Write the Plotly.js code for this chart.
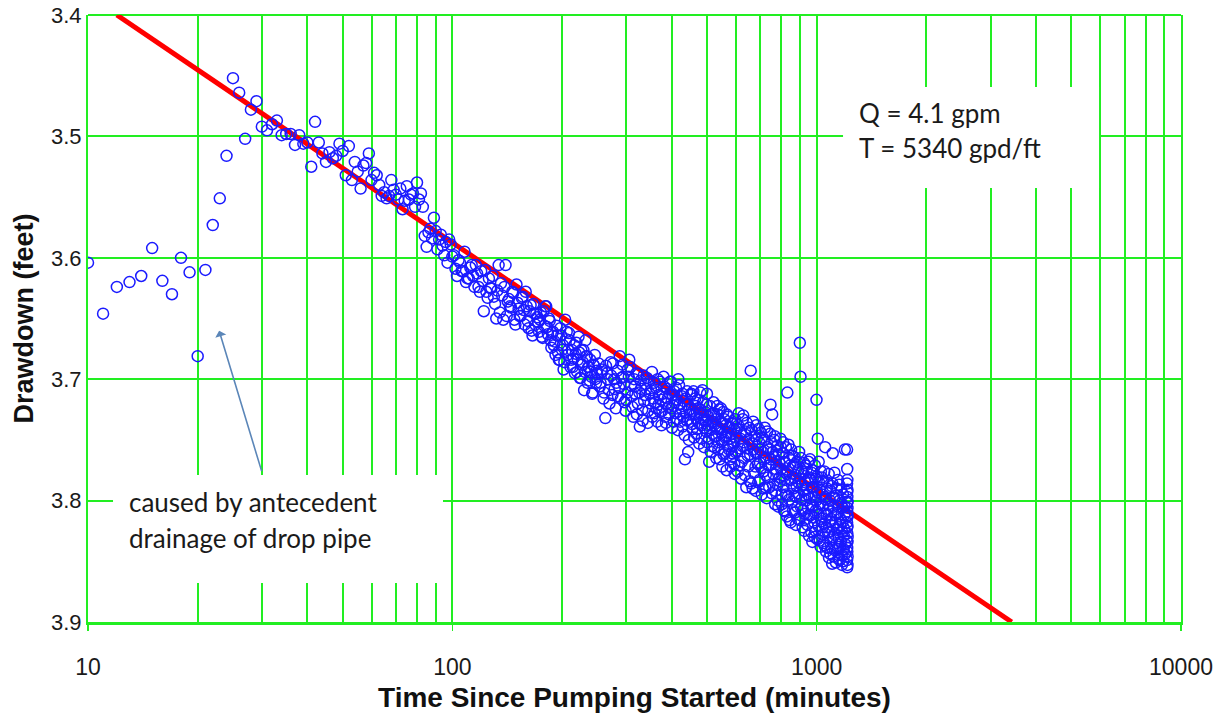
<!DOCTYPE html>
<html>
<head>
<meta charset="utf-8">
<script src="https://cdn.plot.ly/plotly-3.0.1.min.js"></script>
<style>html,body{margin:0;padding:0;background:#fff;}#chart{width:1230px;height:719px;}</style>
</head>
<body>
<div id="chart"></div>
<script>
// Observed drawdown (feet) vs time since pumping started (minutes): [time, drawdown]
const earlyReadings = [[10,3.604],[11,3.646],[12,3.624],[13,3.620],[14,3.615],[15,3.592],[16,3.619],[17,3.630],[18,3.600],[19,3.612],[20,3.681],[21,3.610],[22,3.573],[23,3.551],[24,3.516],[25,3.452],[26,3.464],[27,3.502],[28,3.478],[29,3.471],[30,3.492],[31,3.495],[32,3.490],[33,3.487],[34,3.499],[35,3.498],[36,3.498],[37,3.507],[38,3.499],[39,3.506],[40,3.505],[41,3.525],[42,3.488],[43,3.505]];

const readings44to100 = [[44,3.514],[45,3.521],[46,3.513],[47,3.518],[48,3.516],[49,3.506],[50,3.512],[51,3.532],[52,3.508],[53,3.536],[54,3.521],[55,3.529],[56,3.543],[57,3.524],[58,3.522],[59,3.514],[60,3.536],[61,3.530],[62,3.532],[63,3.540],[64,3.549],[65,3.546],[66,3.551],[67,3.549],[68,3.536],[69,3.544],[70,3.548],[71,3.552],[72,3.543],[73,3.560],[74,3.553],[75,3.541],[76,3.552],[77,3.548],[78,3.547],[79,3.558],[80,3.538],[81,3.552],[82,3.547],[83,3.558],[84,3.582],[85,3.591],[86,3.579],[87,3.576],[88,3.584],[89,3.567],[90,3.578],[91,3.593],[92,3.585],[93,3.581],[94,3.590],[95,3.598],[96,3.587],[97,3.604],[98,3.585],[99,3.589],[100,3.599]];

const readings101to250 = [[101,3.598],[102,3.609],[103,3.615],[104,3.602],[105,3.604],[106,3.611],[107,3.611],[108,3.595],[109,3.620],[110,3.617],[111,3.617],[112,3.608],[113,3.606],[114,3.615],[115,3.624],[116,3.606],[117,3.613],[118,3.624],[119,3.628],[120,3.611],[121,3.619],[122,3.644],[123,3.610],[124,3.628],[125,3.633],[126,3.617],[127,3.625],[128,3.625],[129,3.615],[130,3.632],[131,3.638],[132,3.650],[133,3.627],[134,3.606],[135,3.645],[136,3.621],[137,3.631],[138,3.651],[139,3.624],[140,3.606],[141,3.648],[142,3.636],[143,3.634],[144,3.640],[145,3.641],[146,3.628],[147,3.629],[148,3.651],[149,3.655],[150,3.622],[151,3.637],[152,3.642],[153,3.648],[154,3.648],[155,3.633],[156,3.632],[157,3.643],[158,3.655],[159,3.628],[160,3.640],[161,3.652],[162,3.658],[163,3.644],[164,3.639],[165,3.660],[166,3.664],[167,3.638],[168,3.646],[169,3.655],[170,3.646],[171,3.649],[172,3.653],[173,3.661],[174,3.651],[175,3.645],[176,3.665],[177,3.666],[178,3.644],[179,3.656],[180,3.640],[181,3.640],[182,3.657],[183,3.663],[184,3.650],[185,3.652],[186,3.668],[187,3.674],[188,3.662],[189,3.661],[190,3.672],[191,3.669],[192,3.680],[193,3.656],[194,3.664],[195,3.678],[196,3.684],[197,3.684],[198,3.658],[199,3.664],[200,3.676],[201,3.672],[202,3.692],[203,3.686],[204,3.651],[205,3.667],[206,3.661],[207,3.680],[208,3.676],[209,3.662],[210,3.668],[211,3.690],[212,3.684],[213,3.676],[214,3.690],[215,3.683],[216,3.672],[217,3.695],[218,3.679],[219,3.670],[220,3.694],[221,3.684],[222,3.665],[223,3.678],[224,3.699],[225,3.699],[226,3.676],[227,3.688],[228,3.686],[229,3.676],[230,3.709],[231,3.694],[232,3.668],[233,3.681],[234,3.681],[235,3.703],[236,3.690],[237,3.690],[238,3.701],[239,3.684],[240,3.694],[241,3.698],[242,3.712],[243,3.711],[244,3.688],[245,3.689],[246,3.680],[247,3.700],[248,3.703],[249,3.693],[250,3.696]];

const readings252to600 = [[252,3.687],[255,3.703],[258,3.694],[261,3.711],[264,3.689],[267,3.700],[270,3.720],[273,3.697],[276,3.687],[279,3.708],[282,3.703],[285,3.714],[288,3.681],[291,3.699],[294,3.698],[297,3.719],[300,3.717],[303,3.692],[306,3.684],[309,3.705],[312,3.723],[315,3.700],[318,3.712],[321,3.729],[324,3.696],[327,3.739],[330,3.708],[333,3.734],[336,3.718],[339,3.704],[342,3.699],[345,3.726],[348,3.712],[351,3.709],[354,3.731],[357,3.703],[360,3.719],[363,3.724],[366,3.700],[369,3.713],[372,3.727],[375,3.738],[378,3.712],[381,3.706],[384,3.731],[387,3.720],[390,3.716],[393,3.729],[396,3.702],[399,3.724],[402,3.713],[405,3.735],[408,3.719],[411,3.707],[414,3.733],[417,3.700],[420,3.721],[423,3.729],[426,3.714],[429,3.739],[432,3.718],[435,3.766],[438,3.727],[441,3.710],[444,3.760],[447,3.725],[450,3.735],[453,3.712],[456,3.741],[459,3.710],[462,3.729],[465,3.722],[468,3.745],[471,3.717],[474,3.736],[477,3.728],[480,3.725],[483,3.749],[486,3.709],[489,3.733],[492,3.740],[495,3.734],[498,3.721],[501,3.752],[504,3.738],[507,3.768],[510,3.742],[513,3.729],[516,3.755],[519,3.735],[522,3.728],[525,3.747],[528,3.739],[531,3.747],[534,3.722],[537,3.758],[540,3.725],[543,3.741],[546,3.724],[549,3.751],[552,3.736],[555,3.762],[558,3.733],[561,3.748],[564,3.747],[567,3.729],[570,3.755],[573,3.740],[576,3.739],[579,3.766],[582,3.745],[585,3.761],[588,3.737],[591,3.752],[594,3.770],[597,3.733],[600,3.748],
[254,3.706],[257,3.692],[260,3.716],[263,3.732],[266,3.695],[269,3.709],[272,3.686],[275,3.713],[278,3.700],[281,3.724],[284,3.693],[287,3.707],[290,3.716],[293,3.688],[296,3.704],[299,3.726],[302,3.711],[305,3.698],[308,3.690],[311,3.714],[314,3.731],[317,3.706],[320,3.695],[323,3.720],[326,3.711],[329,3.701],[332,3.725],[335,3.697],[338,3.713],[341,3.708],[344,3.736],[347,3.702],[350,3.720],[353,3.694],[356,3.716],[359,3.728],[362,3.707],[365,3.735],[368,3.721],[371,3.702],[374,3.717],[377,3.726],[380,3.698],[383,3.715],[386,3.736],[389,3.708],[392,3.723],[395,3.712],[398,3.702],[401,3.740],[404,3.722],[407,3.710],[410,3.728],[413,3.717],[416,3.742],[419,3.705],[422,3.735],[425,3.724],[428,3.712],[431,3.731],[434,3.746],[437,3.716],[440,3.734],[443,3.721],[446,3.750],[449,3.729],[452,3.713],[455,3.737],[458,3.726],[461,3.748],[464,3.716],[467,3.732],[470,3.741],[473,3.724],[476,3.753],[479,3.711],[482,3.738],[485,3.730],[488,3.719],[491,3.756],[494,3.727],[497,3.743],[500,3.712],[503,3.731],[506,3.749],[509,3.722],[512,3.760],[515,3.738],[518,3.745],[521,3.719],[524,3.756],[527,3.733],[530,3.765],[533,3.741],[536,3.729],[539,3.752],[542,3.766],[545,3.735],[548,3.744],[551,3.772],[554,3.727],[557,3.750],[560,3.761],[563,3.738],[566,3.775],[569,3.744],[572,3.731],[575,3.758],[578,3.749],[581,3.772],[584,3.736],[587,3.764],[590,3.754],[593,3.741],[596,3.778],[599,3.760]];

const readings603to1199 = [[603,3.741],[607,3.776],[611,3.728],[615,3.757],[619,3.744],[623,3.768],[627,3.733],[631,3.752],[635,3.779],[639,3.746],[643,3.736],[647,3.763],[651,3.750],[655,3.784],[659,3.693],[663,3.742],[667,3.790],[671,3.758],[675,3.747],[679,3.772],[683,3.738],[687,3.761],[691,3.785],[695,3.752],[699,3.769],[703,3.744],[707,3.795],[711,3.760],[715,3.776],[719,3.750],[723,3.789],[727,3.765],[731,3.743],[735,3.781],[739,3.758],[743,3.771],[747,3.721],[751,3.752],[755,3.729],[759,3.787],[763,3.764],[767,3.747],[771,3.792],[775,3.770],[779,3.755],[783,3.800],[787,3.762],[791,3.781],[795,3.749],[799,3.774],[803,3.803],[807,3.761],[811,3.789],[815,3.768],[819,3.809],[823,3.756],[827,3.778],[831,3.711],[835,3.796],[839,3.765],[843,3.816],[847,3.783],[851,3.758],[855,3.801],[859,3.772],[863,3.790],[867,3.764],[871,3.810],[875,3.779],[879,3.797],[883,3.768],[887,3.815],[891,3.785],[895,3.760],[899,3.670],[903,3.698],[907,3.806],[911,3.776],[915,3.822],[919,3.792],[923,3.769],[927,3.811],[931,3.785],[935,3.800],[939,3.774],[943,3.820],[947,3.795],[951,3.781],[955,3.812],[959,3.766],[963,3.803],[967,3.826],[971,3.789],[975,3.775],[979,3.814],[983,3.797],[987,3.830],[991,3.782],[995,3.808],[999,3.717],[1003,3.793],[1007,3.749],[1011,3.821],[1015,3.785],[1019,3.833],[1023,3.802],[1027,3.776],[1031,3.817],[1035,3.795],[1039,3.828],[1043,3.784],[1047,3.811],[1051,3.837],[1055,3.756],[1059,3.799],[1063,3.822],[1067,3.790],[1071,3.839],[1075,3.807],[1079,3.778],[1083,3.826],[1087,3.800],[1091,3.844],[1095,3.815],[1099,3.788],[1103,3.852],[1107,3.761],[1111,3.830],[1115,3.805],[1119,3.777],[1123,3.841],[1127,3.818],[1131,3.796],[1135,3.835],[1139,3.810],[1143,3.783],[1147,3.848],[1151,3.822],[1155,3.800],[1159,3.838],[1163,3.815],[1167,3.791],[1171,3.845],[1175,3.826],[1179,3.806],[1183,3.850],[1187,3.829],[1191,3.812],[1195,3.758],[1199,3.836],
[605,3.759],[609,3.738],[613,3.771],[617,3.749],[621,3.782],[625,3.755],[629,3.730],[633,3.765],[637,3.743],[641,3.789],[645,3.757],[649,3.772],[653,3.740],[657,3.762],[661,3.786],[665,3.753],[669,3.735],[673,3.777],[677,3.760],[681,3.792],[685,3.749],[689,3.770],[693,3.741],[697,3.783],[701,3.758],[705,3.773],[709,3.748],[713,3.790],[717,3.766],[721,3.740],[725,3.779],[729,3.798],[733,3.756],[737,3.771],[741,3.789],[745,3.745],[749,3.766],[753,3.794],[757,3.760],[761,3.778],[765,3.750],[769,3.803],[773,3.774],[777,3.759],[781,3.787],[785,3.805],[789,3.768],[793,3.784],[797,3.756],[801,3.795],[805,3.779],[809,3.752],[813,3.808],[817,3.783],[821,3.769],[825,3.795],[829,3.813],[833,3.776],[837,3.754],[841,3.799],[845,3.771],[849,3.818],[853,3.786],[857,3.763],[861,3.808],[865,3.781],[869,3.796],[873,3.770],[877,3.820],[881,3.788],[885,3.805],[889,3.775],[893,3.794],[897,3.816],[901,3.782],[905,3.765],[909,3.799],[913,3.787],[917,3.808],[921,3.778],[925,3.825],[929,3.796],[933,3.771],[937,3.815],[941,3.790],[945,3.806],[949,3.768],[953,3.829],[957,3.798],[961,3.783],[965,3.812],[969,3.777],[973,3.834],[977,3.804],[981,3.789],[985,3.818],[989,3.771],[993,3.825],[997,3.800],[1001,3.780],[1005,3.832],[1009,3.812],[1013,3.768],[1017,3.806],[1021,3.791],[1025,3.838],[1029,3.815],[1033,3.781],[1037,3.822],[1041,3.804],[1045,3.835],[1049,3.776],[1053,3.819],[1057,3.797],[1061,3.842],[1065,3.812],[1069,3.785],[1073,3.826],[1077,3.803],[1081,3.847],[1085,3.817],[1089,3.792],[1093,3.832],[1097,3.809],[1101,3.839],[1105,3.786],[1109,3.821],[1113,3.846],[1117,3.798],[1121,3.828],[1125,3.812],[1129,3.851],[1133,3.790],[1137,3.824],[1141,3.840],[1145,3.805],[1149,3.831],[1153,3.787],[1157,3.849],[1161,3.820],[1165,3.834],[1169,3.802],[1173,3.853],[1177,3.818],[1181,3.795],[1185,3.840],[1189,3.823],[1193,3.805],[1197,3.844]];

const finalReadings = [[1212,3.758],[1213,3.774],[1214,3.783],[1212,3.786],[1215,3.791],[1213,3.793],[1214,3.797],[1216,3.801],[1212,3.802],[1215,3.806],[1213,3.809],[1214,3.812],[1216,3.813],[1212,3.818],[1215,3.821],[1213,3.822],[1214,3.827],[1216,3.830],[1212,3.833],[1215,3.834],[1213,3.839],[1214,3.842],[1216,3.846],[1212,3.849],[1215,3.853],[1213,3.855]];

// Straight-line (Cooper-Jacob) fit endpoints
const fitTime = [12, 3430];
const fitDrawdown = [3.4, 3.9];

// Axis tick labels
const majorTicks = [10, 100, 1000, 10000];
const majorLabels = ["10", "100", "1000", "10000"];
const minorTicks = [20,30,40,50,60,70,80,90,200,300,400,500,600,700,800,900,2000,3000,4000,5000,6000,7000,8000,9000];
const yTicks = [3.4, 3.5, 3.6, 3.7, 3.8, 3.9];

const allReadings = [].concat(earlyReadings, readings44to100, readings101to250, readings252to600, readings603to1199, finalReadings);
const timeVals = allReadings.map(p => p[0]);
const ddVals = allReadings.map(p => p[1]);

const GREEN = '#22ee22';

const traces = [
  {
    x: fitTime, y: fitDrawdown, type: 'scatter', mode: 'lines',
    line: {color: '#ff0000', width: 5}, hoverinfo: 'skip', showlegend: false
  },
  {
    x: timeVals, y: ddVals, type: 'scatter', mode: 'markers',
    marker: {symbol: 'circle-open', size: 11, color: '#1a1aff', line: {width: 1.5, color: '#1a1aff'}},
    showlegend: false
  }
];

const txtFont = {family: 'Lato, "Noto Sans", sans-serif', size: 26, color: '#1a1a1a'};

const layout = {
  width: 1230, height: 719,
  margin: {l: 88, r: 49, t: 15, b: 97},
  paper_bgcolor: '#ffffff', plot_bgcolor: '#ffffff',
  showlegend: false,
  xaxis: {
    type: 'log', range: [1, 4],
    tickmode: 'array', tickvals: majorTicks, ticktext: majorLabels,
    showgrid: true, gridcolor: GREEN, gridwidth: 2,
    minor: {tickmode: 'array', tickvals: minorTicks, showgrid: true, gridcolor: GREEN, gridwidth: 2, ticks: ''},
    ticks: 'outside', ticklen: 6, tickcolor: GREEN, tickwidth: 1.5,
    ticklabelstandoff: 16,
    showline: true, linecolor: GREEN, linewidth: 3,
    zeroline: false,
    tickfont: {family: '"Liberation Sans", Arial, sans-serif', size: 23, color: '#1a1a1a'},
    title: {text: '<b>Time Since Pumping Started (minutes)</b>', font: {family: '"Liberation Sans", Arial, sans-serif', size: 28, color: '#111'}, standoff: 9}
  },
  yaxis: {
    range: [3.9, 3.4], autorange: false,
    tickmode: 'array', tickvals: yTicks, ticktext: yTicks.map(v => v.toFixed(1)),
    showgrid: true, gridcolor: GREEN, gridwidth: 2,
    ticks: '', showline: true, mirror: true, linecolor: GREEN, linewidth: 2,
    zeroline: false,
    tickfont: {family: '"Liberation Sans", Arial, sans-serif', size: 22, color: '#1a1a1a'},
    title: {text: '<b>Drawdown (feet)</b>', font: {family: '"Liberation Sans", Arial, sans-serif', size: 27, color: '#111'}, standoff: 10}
  },
  shapes: [
    {type: 'line', xref: 'paper', yref: 'paper', x0: 0, x1: 1, y0: 1, y1: 1, line: {color: GREEN, width: 2}, layer: 'below'},
    {type: 'rect', xref: 'paper', yref: 'paper', x0: 0.6908, x1: 0.925, y0: 0.715, y1: 0.8814, fillcolor: '#ffffff', line: {width: 0}, layer: 'above'},
    {type: 'rect', xref: 'paper', yref: 'paper', x0: 0.0229, x1: 0.3248, y0: 0.0643, y1: 0.2422, fillcolor: '#ffffff', line: {width: 0}, layer: 'above'}
  ],
  annotations: [
    {xref: 'paper', yref: 'paper', x: 0.7036, y: 0.8386, xanchor: 'left', yanchor: 'middle', text: 'Q = 4.1 gpm', showarrow: false, font: txtFont},
    {xref: 'paper', yref: 'paper', x: 0.7036, y: 0.7809, xanchor: 'left', yanchor: 'middle', text: 'T = 5340 gpd/ft', showarrow: false, font: txtFont},
    {xref: 'paper', yref: 'paper', x: 0.0357, y: 0.1977, xanchor: 'left', yanchor: 'middle', text: 'caused by antecedent', showarrow: false, font: txtFont},
    {xref: 'paper', yref: 'paper', x: 0.0357, y: 0.1384, xanchor: 'left', yanchor: 'middle', text: 'drainage of drop pipe', showarrow: false, font: txtFont},
    {xref: 'x', yref: 'y', x: Math.log10(22.9), y: 3.660, text: '', showarrow: true, arrowhead: 1, arrowsize: 1.2, arrowwidth: 1.6, arrowcolor: '#5b86b8', ax: 43, ay: 142, axref: 'pixel', ayref: 'pixel', standoff: 0}
  ]
};

Plotly.newPlot('chart', traces, layout, {displayModeBar: false, staticPlot: true});
</script>
</body>
</html>
